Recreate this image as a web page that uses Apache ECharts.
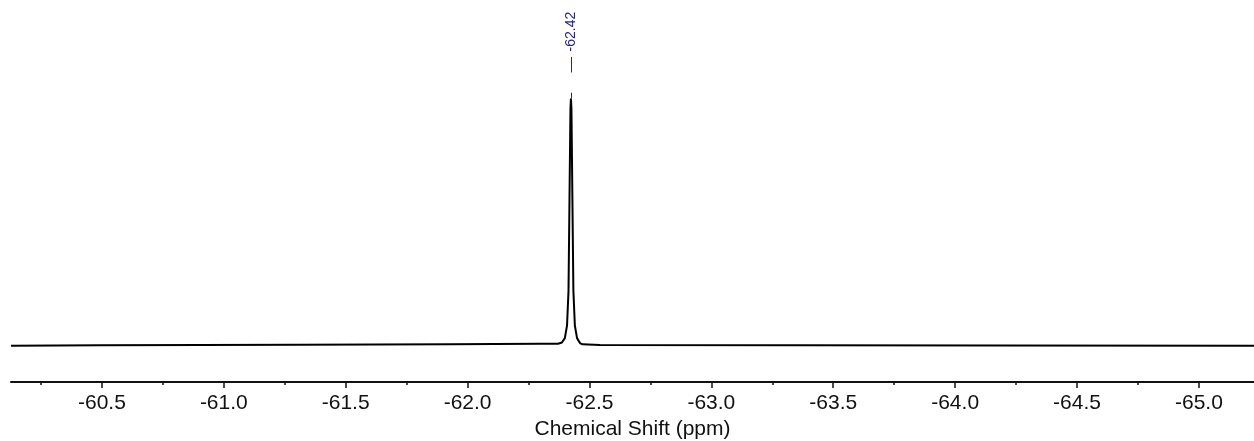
<!DOCTYPE html>
<html>
<head>
<meta charset="utf-8">
<script src="https://cdn.jsdelivr.net/npm/echarts@6/dist/echarts.min.js"></script>
<style>
html,body{margin:0;padding:0;background:#fff;}
#chart{width:1254px;height:441px;}
</style>
</head>
<body>
<div id="chart"></div>
<script>
// Spectrum samples (chemical shift in ppm, relative intensity)
const shiftPpm = [
  -60.127, -60.492, -61.312, -61.927, -62.297, -62.371,
  -62.377, -62.387, -62.399, -62.408, -62.414, -62.418, -62.422,
  -62.424,
  -62.426, -62.430, -62.434, -62.440, -62.449, -62.461, -62.471,
  -62.477, -62.543, -63.363, -64.183, -65.226
];
const intensity = [
  -0.003, -0.001, 0.001, 0.003, 0.005, 0.005,
  0.008, 0.01, 0.028, 0.08, 0.22, 0.59, 0.96,
  1.0,
  0.96, 0.59, 0.22, 0.08, 0.028, 0.008, 0.003,
  0.002, 0.0, -0.0004, -0.0016, -0.003
];
const majorTicks = [-60.5, -61.0, -61.5, -62.0, -62.5, -63.0, -63.5, -64.0, -64.5, -65.0];
const minorTicks = [-60.25, -60.75, -61.25, -61.75, -62.25, -62.75, -63.25, -63.75, -64.25, -64.75];
const tickLabels = ['-60.5', '-61.0', '-61.5', '-62.0', '-62.5', '-63.0', '-63.5', '-64.0', '-64.5', '-65.0'];
const peakLabel = '-62.42';
const axisTitle = 'Chemical Shift (ppm)';

const spectrum = shiftPpm.map((x, i) => [x, intensity[i]]);
const peakTop = Math.max.apply(null, intensity);
const peakShift = shiftPpm[intensity.indexOf(peakTop)];
const labelMap = {};
majorTicks.forEach((v, i) => { labelMap[v.toFixed(2)] = tickLabels[i]; });

const navy = '#24248c';
const chart = echarts.init(document.getElementById('chart'), null, {renderer: 'canvas'});
chart.setOption({
  animation: false,
  backgroundColor: '#ffffff',
  grid: {left: 11, right: 0, top: 0, bottom: 59, containLabel: false, outerBoundsMode: 'none'},
  xAxis: [{
    type: 'value',
    min: -65.226,
    max: -60.127,
    inverse: true,
    position: 'bottom',
    axisLine: {show: true, onZero: false, lineStyle: {color: '#111', width: 2}},
    axisTick: {show: true, length: 6, customValues: majorTicks, lineStyle: {color: '#111', width: 1.5}},
    axisLabel: {
      show: true, customValues: majorTicks, margin: 11,
      color: '#111', fontSize: 21, fontFamily: 'Liberation Sans, Arial, sans-serif',
      formatter: v => labelMap[Number(v).toFixed(2)] || Number(v).toFixed(1)
    },
    splitLine: {show: false},
    name: axisTitle,
    nameLocation: 'middle',
    nameGap: 35,
    nameTextStyle: {color: '#111', fontSize: 21, fontFamily: 'Liberation Sans, Arial, sans-serif'}
  }, {
    type: 'value',
    min: -65.226,
    max: -60.127,
    inverse: true,
    position: 'bottom',
    axisLine: {show: false, onZero: false},
    axisTick: {show: true, length: 3, customValues: minorTicks, lineStyle: {color: '#111', width: 1.5}},
    axisLabel: {show: false},
    splitLine: {show: false}
  }],
  yAxis: {
    type: 'value', min: -0.15, max: 1.4, show: false, splitLine: {show: false}
  },
  series: [{
    type: 'line',
    data: spectrum,
    xAxisIndex: 0,
    showSymbol: false,
    symbol: 'none',
    smooth: false,
    lineStyle: {color: '#000', width: 2},
    clip: true,
    markLine: {
      silent: true,
      symbol: ['none', 'none'],
      label: {show: false},
      lineStyle: {color: navy, width: 1, type: 'solid'},
      data: [
        [{coord: [peakShift, peakTop]}, {coord: [peakShift, peakTop + 0.024]}],
        [{coord: [peakShift, peakTop + 0.106]}, {coord: [peakShift, peakTop + 0.169]}]
      ]
    },
    markPoint: {
      silent: true,
      symbol: 'circle',
      symbolSize: 0,
      data: [{
        coord: [peakShift, peakTop + 0.272],
        label: {
          show: true, position: 'inside', rotate: 90,
          formatter: peakLabel, color: navy, fontSize: 14,
          fontFamily: 'Liberation Sans, Arial, sans-serif'
        }
      }]
    }
  }]
});
</script>
</body>
</html>
